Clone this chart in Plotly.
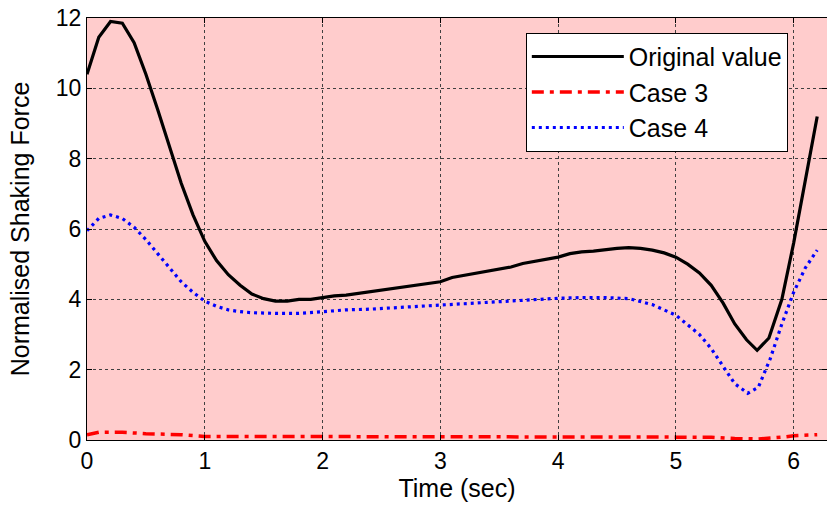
import plotly.graph_objects as go
import math

t_orig = [0, 0.1, 0.2, 0.3, 0.4, 0.5, 0.6, 0.7, 0.8, 0.9, 1.0, 1.1, 1.2, 1.3, 1.4, 1.5, 1.6, 1.7, 1.8, 1.9,
          2.0, 2.1, 2.2, 2.4, 2.6, 2.8, 3.0, 3.1, 3.2, 3.4, 3.6, 3.7, 3.8, 4.0, 4.1, 4.2, 4.3, 4.4, 4.5, 4.6,
          4.7, 4.8, 4.9, 5.0, 5.1, 5.2, 5.3, 5.4, 5.5, 5.6, 5.69, 5.79, 5.9, 6.0, 6.1, 6.2]
original = [10.4, 11.45, 11.9, 11.85, 11.3, 10.4, 9.4, 8.35, 7.3, 6.4, 5.65, 5.1, 4.7, 4.4, 4.15, 4.02, 3.95, 3.95, 4.0, 4.0,
            4.05, 4.1, 4.12, 4.22, 4.32, 4.42, 4.5, 4.62, 4.68, 4.8, 4.92, 5.02, 5.08, 5.2, 5.3, 5.35, 5.37, 5.42, 5.45, 5.47,
            5.45, 5.4, 5.32, 5.2, 5.0, 4.75, 4.4, 3.9, 3.3, 2.85, 2.55, 2.9, 4.0, 5.6, 7.4, 9.2]

t_case3 = [0, 0.1, 0.3, 0.5, 0.8, 1.0, 1.5, 2.0, 3.0, 4.0, 5.0, 5.2, 5.3, 5.5, 5.7, 5.9, 6.0, 6.2]
case3 = [0.15, 0.22, 0.22, 0.18, 0.15, 0.1, 0.1, 0.1, 0.1, 0.1, 0.1, 0.1, 0.08, 0.04, 0.03, 0.08, 0.12, 0.15]

t_case4 = [0, 0.1, 0.2, 0.3, 0.4, 0.5, 0.6, 0.7, 0.8, 0.9, 1.0, 1.1, 1.2, 1.3, 1.4, 1.6, 1.8, 2.0, 2.2, 2.4,
           2.6, 2.8, 3.0, 3.2, 3.4, 3.6, 3.8, 4.0, 4.2, 4.4, 4.6, 4.8, 5.0, 5.2, 5.3, 5.4, 5.5, 5.61, 5.7, 5.8,
           5.9, 6.0, 6.1, 6.2]
case4 = [5.95, 6.3, 6.4, 6.3, 6.05, 5.7, 5.3, 4.9, 4.5, 4.2, 3.95, 3.8, 3.7, 3.65, 3.62, 3.6, 3.6, 3.65, 3.7, 3.72,
         3.76, 3.8, 3.85, 3.88, 3.92, 3.97, 4.0, 4.03, 4.05, 4.05, 4.02, 3.85, 3.55, 3.0, 2.6, 2.1, 1.6, 1.33, 1.5, 2.3,
         3.3, 4.2, 4.9, 5.4]

x_ticks = [0, 1, 2, 3, 4, 5, 6]
y_ticks = [0, 2, 4, 6, 8, 10, 12]

FONT = "Liberation Sans, Arial, sans-serif"

fig = go.Figure()
fig.add_trace(go.Scatter(x=t_orig, y=original, mode="lines", name="Original value",
                         line=dict(color="#000000", width=3.2)))
fig.add_trace(go.Scatter(x=t_case3, y=case3, mode="lines", name="Case 3",
                         line=dict(color="#FF0000", width=3.5, dash="12px,6px,4px,6px")))
fig.add_trace(go.Scatter(x=t_case4, y=case4, mode="lines", name="Case 4",
                         line=dict(color="#0000FF", width=3.2, dash="3px,4px")))

axis_common = dict(
    showline=True, linecolor="#000000", linewidth=1, mirror="ticks",
    ticks="inside", ticklen=5, tickcolor="#000000",
    showgrid=True, gridcolor="#404040", gridwidth=1, griddash="dot",
    zeroline=False,
    tickfont=dict(family=FONT, size=23, color="#000000"),
)

fig.update_layout(
    width=827, height=517,
    margin=dict(l=87, r=0, t=18, b=77),
    paper_bgcolor="#FFFFFF",
    plot_bgcolor="#FFCCCC",
    font=dict(family=FONT, color="#000000"),
    xaxis=dict(range=[0, 2 * math.pi], tickvals=x_ticks,
               title=dict(text="Time (sec)", font=dict(family=FONT, size=25), standoff=2),
               **axis_common),
    yaxis=dict(range=[0, 12], tickvals=y_ticks,
               title=dict(text="Normalised Shaking Force", font=dict(family=FONT, size=25), standoff=19),
               **axis_common),
    legend=dict(x=0.593, y=0.965, xanchor="left", yanchor="top",
                bgcolor="#FFFFFF", bordercolor="#000000", borderwidth=1,
                font=dict(family=FONT, size=25, color="#000000"),
                itemwidth=92, tracegroupgap=0),
    showlegend=True,
)

fig.write_html("out.html")
